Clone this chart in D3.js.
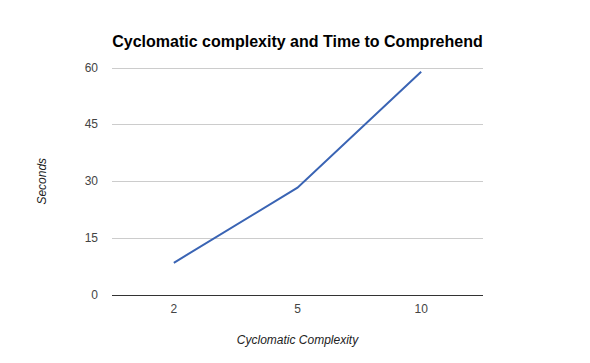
<!DOCTYPE html>
<html>
<head>
<meta charset="utf-8">
<script src="https://cdn.jsdelivr.net/npm/d3@7"></script>
<style>
  body { margin: 0; background: #fff; }
  text { font-family: "Liberation Sans", Arial, sans-serif; }
</style>
</head>
<body>
<div id="chart"></div>
<script>
// chart data
const complexity = ["2", "5", "10"];
const seconds = [8.5, 28.3, 58.9];
const yTicks = [0, 15, 30, 45, 60];

const width = 590, height = 363;
const margin = {top: 67.5, right: 107, bottom: 68, left: 112};

let svg = d3.select("#chart").append("svg")
    .attr("width", width)
    .attr("height", height)
    .style("background-color", "#fff");

var x = d3.scaleBand()
    .domain(complexity)
    .range([margin.left, width - margin.right]);

var y = d3.scaleLinear()
    .domain([0, 60])
    .range([height - margin.bottom, margin.top]);

// gridlines
svg.append("g")
    .selectAll("line")
    .data(yTicks)
    .enter().append("line")
    .attr("x1", margin.left)
    .attr("x2", width - margin.right)
    .attr("y1", d => Math.round(y(d)) + 0.5)
    .attr("y2", d => Math.round(y(d)) + 0.5)
    .attr("stroke", d => d === 0 ? "#333" : "#ccc")
    .attr("stroke-width", 1);

// y tick labels
svg.append("g")
    .selectAll("text")
    .data(yTicks)
    .enter().append("text")
    .attr("x", margin.left - 14)
    .attr("y", d => y(d) + 4)
    .attr("text-anchor", "end")
    .attr("font-size", 12)
    .attr("fill", "#444")
    .text(d => d);

// x tick labels
svg.append("g")
    .selectAll("text")
    .data(complexity)
    .enter().append("text")
    .attr("x", d => x(d) + x.bandwidth() / 2)
    .attr("y", 313)
    .attr("text-anchor", "middle")
    .attr("font-size", 12)
    .attr("fill", "#444")
    .text(d => d);

// line
var line = d3.line()
    .x((d, i) => x(complexity[i]) + x.bandwidth() / 2)
    .y(d => y(d));

svg.append("path")
    .datum(seconds)
    .attr("d", line)
    .attr("fill", "none")
    .attr("stroke", "#3a64b4")
    .attr("stroke-width", 2);

// title
svg.append("text")
    .attr("x", (margin.left + width - margin.right) / 2)
    .attr("y", 47)
    .attr("text-anchor", "middle")
    .attr("font-size", 16)
    .attr("font-weight", "bold")
    .attr("fill", "#000")
    .text("Cyclomatic complexity and Time to Comprehend");

// axis titles
svg.append("text")
    .attr("x", (margin.left + width - margin.right) / 2)
    .attr("y", 344)
    .attr("text-anchor", "middle")
    .attr("font-size", 12)
    .attr("font-style", "italic")
    .attr("fill", "#222")
    .text("Cyclomatic Complexity");

svg.append("text")
    .attr("transform", "translate(46," + y(30) + ") rotate(-90)")
    .attr("text-anchor", "middle")
    .attr("font-size", 12)
    .attr("font-style", "italic")
    .attr("fill", "#222")
    .text("Seconds");
</script>
</body>
</html>
